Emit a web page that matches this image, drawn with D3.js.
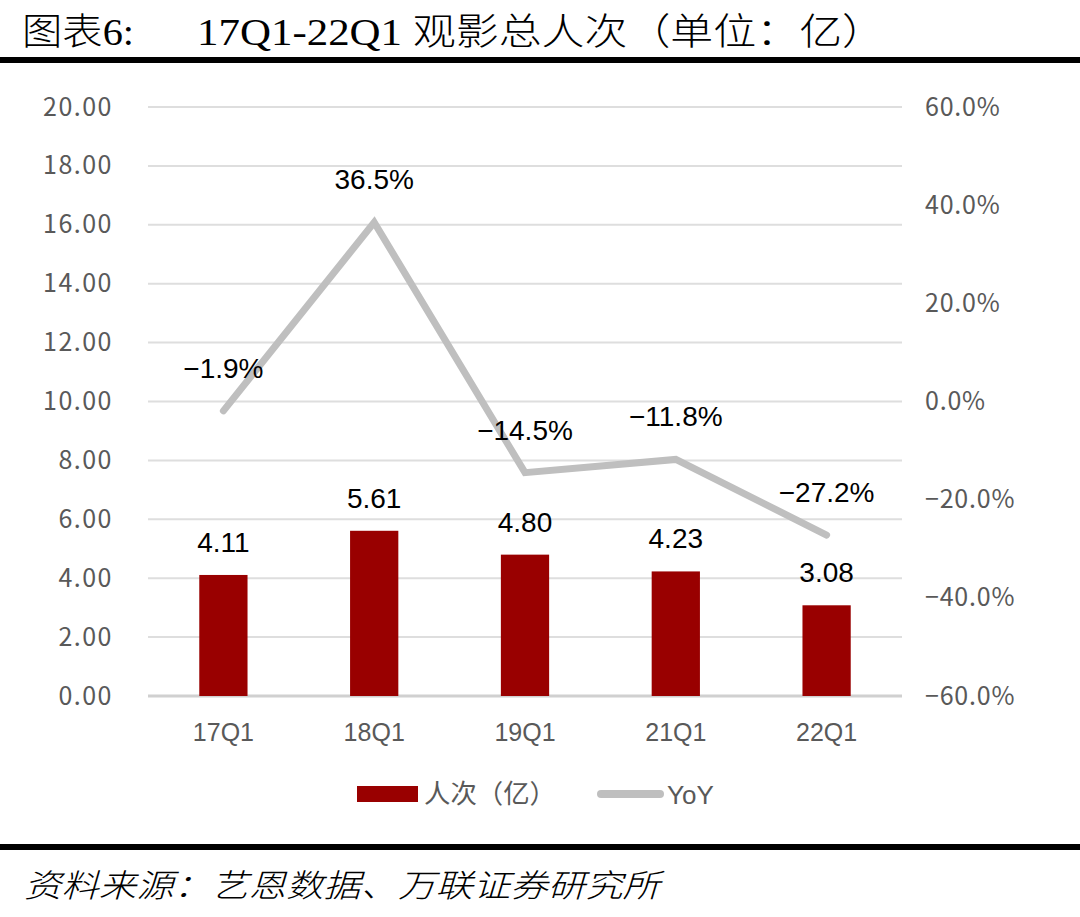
<!DOCTYPE html>
<html lang="zh">
<head>
<meta charset="utf-8">
<title>观影总人次</title>
<script src="https://cdn.jsdelivr.net/npm/d3@7/dist/d3.min.js"></script>
<style>
  body { margin: 0; background: #fff; }
  svg text { font-family: "Noto Sans CJK SC", "Noto Sans", sans-serif; }
</style>
</head>
<body>
<script>
// data
var quarters = ["17Q1", "18Q1", "19Q1", "21Q1", "22Q1"];
var visits = [4.11, 5.61, 4.80, 4.23, 3.08];      // 人次（亿）
var yoy = [-0.019, 0.365, -0.145, -0.118, -0.272]; // YoY
var leftTicks = [0, 2, 4, 6, 8, 10, 12, 14, 16, 18, 20];
var rightTicks = [-0.6, -0.4, -0.2, 0, 0.2, 0.4, 0.6];

var w = 1080, h = 917;
var plot = {left: 148, right: 902, top: 107, bottom: 696};

var svg = d3.select("body").append("svg")
  .attr("width", w)
  .attr("height", h);

// title and rules
var serif = "'Liberation Serif', 'Noto Sans CJK SC', serif";
svg.append("text")
  .attr("x", 22).attr("y", 45)
  .attr("font-size", 37)
  .attr("font-weight", 300)
  .attr("fill", "#000")
  .attr("textLength", 112).attr("lengthAdjust", "spacingAndGlyphs")
  .style("font-family", serif)
  .text("图表6:");
svg.append("text")
  .attr("x", 197).attr("y", 45)
  .attr("font-size", 37)
  .attr("font-weight", 300)
  .attr("fill", "#000")
  .attr("textLength", 688).attr("lengthAdjust", "spacingAndGlyphs")
  .style("font-family", serif)
  .text("17Q1-22Q1 观影总人次（单位：亿）");

svg.append("rect").attr("x", 0).attr("y", 57).attr("width", w).attr("height", 6).attr("fill", "#000");
svg.append("rect").attr("x", 0).attr("y", 844).attr("width", w).attr("height", 6).attr("fill", "#000");

svg.append("text")
  .attr("x", 24).attr("y", 897)
  .attr("font-size", 32)
  .attr("font-weight", 300)
  .attr("font-style", "italic")
  .attr("fill", "#000")
  .attr("textLength", 636).attr("lengthAdjust", "spacingAndGlyphs")
  .text("资料来源：艺恩数据、万联证券研究所");

// scales
var x = d3.scaleBand()
  .domain(quarters)
  .range([plot.left, plot.right])
  .paddingInner(0.68)
  .paddingOuter(0.34);

var yL = d3.scaleLinear().domain([0, 20]).range([plot.bottom, plot.top]);
var yR = d3.scaleLinear().domain([-0.6, 0.6]).range([plot.bottom, plot.top]);

// gridlines
svg.append("g")
  .selectAll("line")
  .data(leftTicks)
  .enter().append("line")
  .attr("x1", plot.left).attr("x2", plot.right)
  .attr("y1", d => yL(d)).attr("y2", d => yL(d))
  .attr("stroke", "#dedede")
  .attr("stroke-width", 2);

// left axis
var axL = svg.append("g")
  .attr("transform", "translate(" + (plot.left - 35) + ",0)")
  .call(d3.axisLeft(yL).tickValues(leftTicks).tickFormat(d3.format(".2f")).tickSize(0).tickPadding(0));
axL.select(".domain").remove();
axL.selectAll("text")
  .attr("font-size", 25)
  .attr("fill", "#595959")
  .attr("letter-spacing", 1.5)
  .style("font-family", "'Noto Sans CJK SC', sans-serif");

// right axis
var axR = svg.append("g")
  .attr("transform", "translate(" + (plot.right + 23) + ",0)")
  .call(d3.axisRight(yR).tickValues(rightTicks).tickFormat(d3.format(".1%")).tickSize(0).tickPadding(0));
axR.select(".domain").remove();
axR.selectAll("text")
  .attr("font-size", 25)
  .attr("fill", "#595959")
  .attr("letter-spacing", 0.8)
  .style("font-family", "'Noto Sans CJK SC', sans-serif");

// bottom axis line
svg.append("line")
  .attr("x1", plot.left).attr("x2", plot.right)
  .attr("y1", yL(0)).attr("y2", yL(0))
  .attr("stroke", "#d0d0d0").attr("stroke-width", 3);

// x labels
var axB = svg.append("g")
  .attr("transform", "translate(0," + (plot.bottom + 22) + ")")
  .call(d3.axisBottom(x).tickSize(0).tickPadding(0));
axB.select(".domain").remove();
axB.selectAll("text")
  .attr("font-size", 25)
  .attr("fill", "#595959")
  .attr("dy", "0.9em")
  .style("font-family", "'Liberation Sans Narrow', 'Liberation Sans', sans-serif");

// bars
svg.append("g")
  .selectAll("rect")
  .data(visits)
  .enter().append("rect")
  .attr("x", (d, i) => x(quarters[i]))
  .attr("y", d => yL(d))
  .attr("width", x.bandwidth())
  .attr("height", d => yL(0) - yL(d))
  .attr("fill", "#990000");

svg.append("g")
  .selectAll("text")
  .data(visits)
  .enter().append("text")
  .attr("x", (d, i) => x(quarters[i]) + x.bandwidth() / 2)
  .attr("y", d => yL(d) - 23)
  .attr("text-anchor", "middle")
  .attr("font-size", 28)
  .attr("fill", "#000")
  .style("font-family", "'Liberation Sans Narrow', 'Liberation Sans', sans-serif")
  .text(d => d3.format(".2f")(d));

// YoY line
var line = d3.line()
  .x((d, i) => x(quarters[i]) + x.bandwidth() / 2)
  .y(d => yR(d));

svg.append("path")
  .datum(yoy)
  .attr("d", line)
  .attr("fill", "none")
  .attr("stroke", "#bfbfbf")
  .attr("stroke-width", 7)
  .attr("stroke-linecap", "round")
  .attr("stroke-linejoin", "miter");

svg.append("g")
  .selectAll("text")
  .data(yoy)
  .enter().append("text")
  .attr("x", (d, i) => x(quarters[i]) + x.bandwidth() / 2)
  .attr("y", d => yR(d) - 33)
  .attr("text-anchor", "middle")
  .attr("font-size", 28)
  .attr("fill", "#000")
  .style("font-family", "'Liberation Sans Narrow', 'Liberation Sans', sans-serif")
  .text(d => d3.format(".1%")(d));

// legend
var lg = svg.append("g");
lg.append("rect")
  .attr("x", 357).attr("y", 786).attr("width", 61).attr("height", 16)
  .attr("fill", "#990000");
lg.append("text")
  .attr("x", 424).attr("y", 803)
  .attr("font-size", 26)
  .attr("fill", "#595959")
  .attr("textLength", 132).attr("lengthAdjust", "spacingAndGlyphs")
  .text("人次（亿）");
lg.append("line")
  .attr("x1", 601).attr("x2", 660).attr("y1", 794).attr("y2", 794)
  .attr("stroke", "#bfbfbf").attr("stroke-width", 8).attr("stroke-linecap", "round");
lg.append("text")
  .attr("x", 667).attr("y", 804)
  .attr("font-size", 26)
  .attr("fill", "#595959")
  .style("font-family", "'Liberation Sans Narrow', 'Liberation Sans', sans-serif")
  .text("YoY");
</script>
</body>
</html>
